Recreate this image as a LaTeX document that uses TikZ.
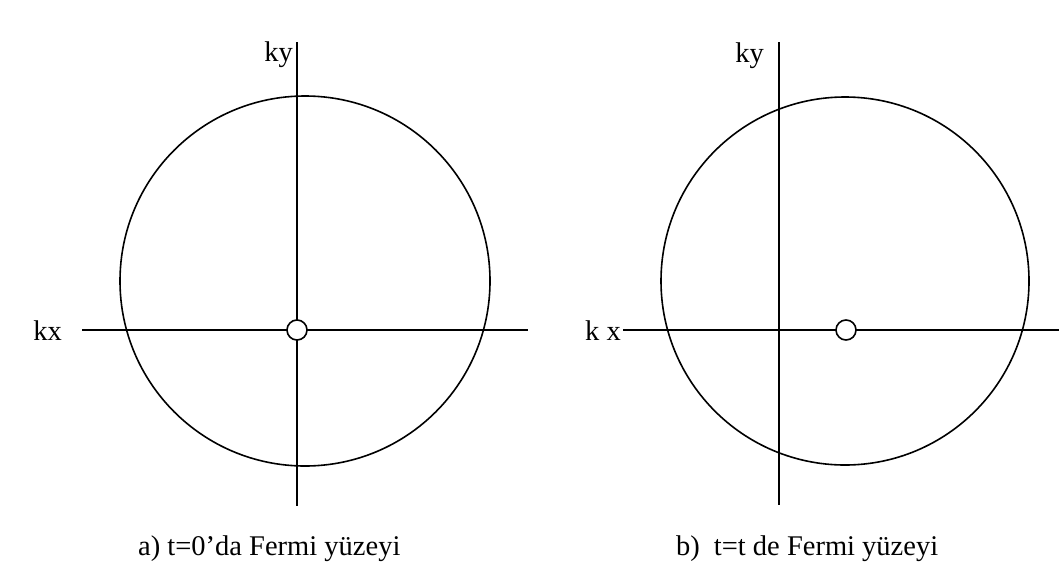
\documentclass[tikz,border=0pt]{standalone}
\usepackage{fontspec}
\setmainfont{Liberation Serif}
\begin{document}
\begin{tikzpicture}[x=1pt,y=-1pt,
  axis/.style={line width=1.6pt},
  fermi/.style={line width=1.6pt},
  dot/.style={circle,draw,line width=1.6pt,fill=white,inner sep=0pt,minimum size=20pt},
  lbl/.style={font=\fontsize{28.5}{31}\selectfont,inner sep=0pt},
  captext/.style={font=\fontsize{28.5}{31}\selectfont,inner sep=0pt,anchor=base west}]
\useasboundingbox (0,0) rectangle (1059,573);
% panel a
\coordinate (aL) at (82,330);
\coordinate (aR) at (528,330);
\coordinate (aT) at (297,42);
\coordinate (aB) at (297,506);
\coordinate (aC) at (305,281);
\draw[fermi] (aC) circle (185);
\draw[axis] (aL) -- (aR);
\draw[axis] (aT) -- (aB);
\node[dot] (aO) at (297,330) {};
\node[lbl,anchor=base east] (akx) at (62,340) {kx};
\node[lbl,anchor=base east] (aky) at (293,61) {ky};
\node[captext] (acap) at (138,555) {a) t=0’da Fermi yüzeyi};
% panel b
\coordinate (bL) at (623,330);
\coordinate (bR) at (1059,330);
\coordinate (bT) at (779,42);
\coordinate (bB) at (779,505);
\coordinate (bC) at (845,281);
\draw[fermi] (bC) circle (184);
\draw[axis] (bL) -- (bR);
\draw[axis] (bT) -- (bB);
\node[dot] (bO) at (846,330) {};
\node[lbl,anchor=base east] (bkx) at (621,340) {k x};
\node[lbl,anchor=base east] (bky) at (764,62) {ky};
\node[captext] (bcap) at (676,555) {b)\hspace{14pt}t=t de Fermi yüzeyi};
\end{tikzpicture}
\end{document}
